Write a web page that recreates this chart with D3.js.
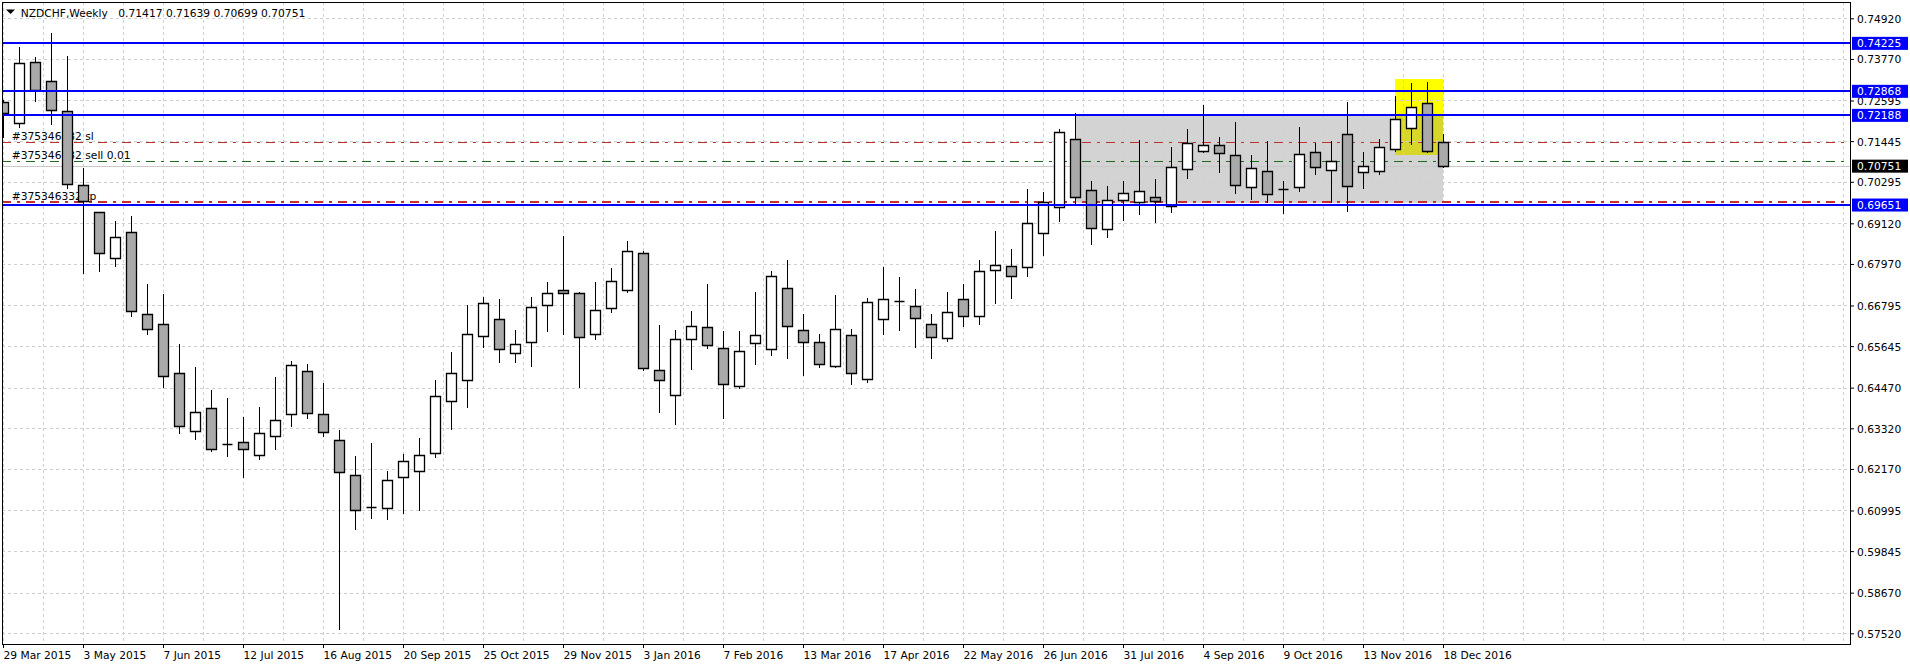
<!DOCTYPE html>
<html><head><meta charset="utf-8">
<script src="https://cdn.jsdelivr.net/npm/d3@7"></script>
<style>
html,body{margin:0;padding:0;background:#fff;overflow:hidden;}
svg text{font-family:"DejaVu Sans",sans-serif;font-size:10.7px;}
</style></head><body>
<svg id="c" width="1910" height="668"></svg>
<script>
// ---------- DATA ----------
const symbolTitle = "NZDCHF,Weekly";
const titleOHLC = "0.71417 0.71639 0.70699 0.70751";
const dateLabels = ["29 Mar 2015","3 May 2015","7 Jun 2015","12 Jul 2015","16 Aug 2015","20 Sep 2015","25 Oct 2015","29 Nov 2015","3 Jan 2016","7 Feb 2016","13 Mar 2016","17 Apr 2016","22 May 2016","26 Jun 2016","31 Jul 2016","4 Sep 2016","9 Oct 2016","13 Nov 2016","18 Dec 2016"];
const dateLabelBars = [0,5,10,15,20,25,30,35,40,45,50,55,60,65,70,75,80,85,90];
const priceTicks = [0.74920,0.73770,0.72595,0.71445,0.70295,0.69120,0.67970,0.66795,0.65645,0.64470,0.63320,0.62170,0.60995,0.59845,0.58670,0.57520];

const opens  = [0.72561,0.71950,0.73675,0.73138,0.72289,0.70195,0.69431,0.68130,0.68866,0.66546,
                0.66263,0.64876,0.63235,0.63886,0.62880,0.62924,0.62556,0.63094,0.63716,0.64933,
                0.63716,0.62981,0.61990,0.61085,0.61057,0.61934,0.62112,0.62613,0.64084,0.64678,
                0.65923,0.66404,0.65442,0.65753,0.66800,0.67225,0.67140,0.65980,0.66715,0.67225,
                0.68271,0.64961,0.64254,0.65838,0.66178,0.65584,0.64508,0.65725,0.65555,0.67281,
                0.66093,0.65753,0.65074,0.65951,0.64707,0.66404,0.66935,0.66772,0.66263,0.65867,
                0.66970,0.66489,0.67790,0.67904,0.67875,0.68837,0.69573,0.71497,0.70054,0.68950,
                0.69771,0.69714,0.69856,0.69601,0.70648,0.71157,0.71327,0.71044,0.70139,0.70591,
                0.70085,0.70139,0.71129,0.70620,0.71638,0.70563,0.70591,0.71214,0.71817,0.72515,
                0.71417];
const highs  = [0.72600,0.74100,0.73817,0.74496,0.73854,0.70676,0.69431,0.69185,0.69318,0.67403,
                0.67120,0.65697,0.65055,0.64404,0.64177,0.63648,0.63931,0.64780,0.65224,0.65139,
                0.64610,0.63272,0.62536,0.62913,0.62121,0.62593,0.63046,0.64687,0.65479,0.66809,
                0.67035,0.66970,0.66101,0.67027,0.67459,0.68761,0.67176,0.67459,0.67856,0.68619,
                0.68345,0.66243,0.66101,0.66639,0.67403,0.66073,0.66073,0.67176,0.67762,0.68073,
                0.66554,0.65988,0.67092,0.66121,0.66998,0.67884,0.67601,0.67261,0.66554,0.67176,
                0.67403,0.68073,0.68902,0.68393,0.70091,0.69997,0.71788,0.72241,0.70317,0.70176,
                0.70317,0.71477,0.70374,0.71279,0.71788,0.72467,0.71562,0.71986,0.71053,0.71449,
                0.70317,0.71845,0.71392,0.71449,0.72552,0.71138,0.71505,0.72722,0.73098,0.73127,
                0.71639];
const lows   = [0.71570,0.71836,0.72589,0.71930,0.70119,0.67723,0.67779,0.67921,0.66506,0.65988,
                0.64497,0.63196,0.63017,0.62686,0.62536,0.61951,0.62443,0.62734,0.63394,0.63603,
                0.63111,0.57650,0.60480,0.60791,0.60745,0.60915,0.61009,0.62517,0.63309,0.63931,
                0.65629,0.65204,0.65204,0.65091,0.66082,0.65997,0.64480,0.65838,0.66619,0.67168,
                0.64970,0.63790,0.63433,0.65006,0.65584,0.63603,0.64452,0.65148,0.65402,0.65301,
                0.64828,0.65046,0.65060,0.64582,0.64639,0.65988,0.66101,0.65612,0.65301,0.65782,
                0.66223,0.66280,0.66874,0.67015,0.67638,0.68223,0.69194,0.69703,0.68543,0.68741,
                0.69214,0.69392,0.69165,0.69448,0.70410,0.71150,0.70580,0.69986,0.69816,0.69714,
                0.69403,0.70043,0.70507,0.69714,0.69477,0.70127,0.70507,0.71174,0.71355,0.71146,
                0.70699];
const closes = [0.72232,0.73647,0.72892,0.72326,0.70232,0.69743,0.68271,0.68724,0.66639,0.66121,
                0.64791,0.63377,0.63773,0.62726,0.62876,0.62726,0.63179,0.63546,0.65103,0.63745,
                0.63207,0.62075,0.61000,0.61090,0.61857,0.62386,0.62556,0.64226,0.64876,0.65980,
                0.66857,0.65555,0.65697,0.66744,0.67140,0.67140,0.65895,0.66659,0.67479,0.68328,
                0.65018,0.64678,0.65838,0.66206,0.65668,0.64565,0.65499,0.65951,0.67621,0.66206,
                0.65753,0.65131,0.66121,0.64876,0.66885,0.66970,0.66925,0.66432,0.65895,0.66602,
                0.66489,0.67762,0.67932,0.67621,0.69120,0.69714,0.71695,0.69856,0.68996,0.69771,
                0.69969,0.70026,0.69743,0.70705,0.71384,0.71327,0.71101,0.70195,0.70676,0.69941,
                0.70080,0.71072,0.70705,0.70874,0.70167,0.70733,0.71270,0.72063,0.72419,0.71174,
                0.70751];

const levelPrices = [0.74225,0.72868,0.72188,0.69651];
const bidPrice = 0.70751;
const orderId = "#375346332";
const orderNames  = ["sl","sell 0.01","tp"];
const orderPrices = [0.71420,0.70874,0.69710];
const orderColors = ["#c0302c","#1a6b1a","#c0302c"];
const orderWidths = [1,1,2];
// zones: [fromBar, toBar, topPrice, bottomPrice]
const grayZone   = [67,90,0.72188,0.69700];
const yellowZone = [87,90,0.73203,0.71053];

// ---------- LAYOUT ----------
const svg = d3.select("#c");
const L = 2, T = 2, R = 1850, B = 644;
const x = d3.scaleLinear().domain([0,90]).range([3,1443]);
const y = d3.scaleLinear().domain([0.57520,0.74920]).range([633.3,18.3]);
const px = v => Math.round(v) + 0.5;

svg.append("rect").attr("width",1910).attr("height",668).attr("fill","#fff");
svg.append("defs").append("clipPath").attr("id","clip")
  .append("rect").attr("x",L+1).attr("y",T+1).attr("width",R-L-1).attr("height",B-T-1);
const plot = svg.append("g").attr("clip-path","url(#clip)");

// zones
function zoneRect(z, fill){
  plot.append("rect")
    .attr("x", x(z[0])).attr("width", x(z[1]) - x(z[0]))
    .attr("y", y(z[2])).attr("height", y(z[3]) - y(z[2]))
    .attr("fill", fill);
}
zoneRect(grayZone, "#d3d3d3");
zoneRect(yellowZone, "#ffff00");
const ov = [Math.max(grayZone[0],yellowZone[0]), Math.min(grayZone[1],yellowZone[1]),
            Math.min(grayZone[2],yellowZone[2]), Math.max(grayZone[3],yellowZone[3])];
if (ov[2] > ov[3]) zoneRect(ov, "#d6d62b");

// grid
const gridBars = d3.range(0, 116, 2.5);
plot.selectAll("line.vg").data(gridBars).join("line")
  .attr("x1", d=>px(x(d))).attr("x2", d=>px(x(d)))
  .attr("y1", T).attr("y2", B)
  .attr("stroke","#cfcfcf").attr("stroke-dasharray","3,3");
plot.selectAll("line.hg").data(priceTicks).join("line")
  .attr("x1", L).attr("x2", R)
  .attr("y1", d=>px(y(d))).attr("y2", d=>px(y(d)))
  .attr("stroke","#cfcfcf").attr("stroke-dasharray","3,3");

// bid line
plot.append("line").attr("x1",L).attr("x2",R)
  .attr("y1",px(y(bidPrice))).attr("y2",px(y(bidPrice)))
  .attr("stroke","#c8c8c8");

// order lines + labels
orderPrices.forEach((p,k)=>{
  const yy = orderWidths[k] === 2 ? Math.round(y(p)) : px(y(p));
  plot.append("line").attr("x1",L).attr("x2",R).attr("y1",yy).attr("y2",yy)
    .attr("stroke",orderColors[k]).attr("stroke-width",orderWidths[k])
    .attr("stroke-dasharray","9,6,3,6");
  plot.append("text").attr("x",11.7).attr("y",y(p)-2.3).attr("fill","#000")
    .text(orderId + " " + orderNames[k]);
});

// candles
const bars = opens.map((o,i)=>({i,o,h:highs[i],l:lows[i],c:closes[i]}));
plot.selectAll("line.wick").data(bars).join("line")
  .attr("x1",d=>px(x(d.i))).attr("x2",d=>px(x(d.i)))
  .attr("y1",d=>Math.round(y(d.h))).attr("y2",d=>Math.round(y(d.l))+1)
  .attr("stroke","#000").attr("stroke-width",1);
plot.selectAll("path.body").data(bars).join("path")
  .attr("d", d=>{
    const cx = Math.round(x(d.i));
    const y0 = px(y(Math.max(d.o,d.c))), y1 = px(y(Math.min(d.o,d.c)));
    const x0 = cx - 4.5, x1 = cx + 5.5;
    return `M${x0},${y0}H${x1}V${y1}H${x0}Z`;
  })
  .attr("fill", d=> d.c >= d.o ? "#ffffff" : "#a9a9a9")
  .attr("stroke","#000").attr("stroke-width",1.3);

// support / resistance lines
plot.selectAll("line.lvl").data(levelPrices).join("line")
  .attr("x1",L).attr("x2",R)
  .attr("y1",d=>Math.round(y(d))).attr("y2",d=>Math.round(y(d)))
  .attr("stroke","#0000ff").attr("stroke-width",2);

// frame
svg.append("rect").attr("x",L+0.5).attr("y",T+0.5).attr("width",R-L).attr("height",B-T)
  .attr("fill","none").attr("stroke","#000");

// price axis
const yAxis = d3.axisRight(y).tickValues(priceTicks).tickFormat(d3.format(".5f"))
  .tickSize(4).tickPadding(3);
const ya = svg.append("g").attr("transform",`translate(${R},0)`).call(yAxis);
ya.select(".domain").remove();
ya.attr("font-family",null).attr("font-size",null);
ya.selectAll("text").attr("dy",null).attr("y",4).attr("fill","#000");

// date axis
const xAxis = d3.axisBottom(x).tickValues(dateLabelBars)
  .tickFormat((d,k)=>dateLabels[k]).tickSize(4);
const xa = svg.append("g").attr("transform",`translate(0,${B})`).call(xAxis);
xa.select(".domain").remove();
xa.attr("font-family",null).attr("font-size",null);
xa.selectAll("text").attr("text-anchor","start").attr("dy",null).attr("y",15.3).attr("x",0).attr("fill","#000");

// price boxes
function priceBox(p, bg){
  const yy = y(p);
  const g = svg.append("g");
  g.append("rect").attr("x",R+2).attr("y",yy-6).attr("width",56).attr("height",13).attr("fill",bg);
  g.append("text").attr("x",R+7).attr("y",yy+4.3).attr("fill","#fff").text(d3.format(".5f")(p));
}
priceBox(bidPrice, "#000");
levelPrices.forEach(p=>priceBox(p,"#0000ff"));

// title
svg.append("path").attr("d","M6,9.5H15L10.5,14Z").attr("fill","#000");
svg.append("text").attr("x",20.7).attr("y",17.3).attr("fill","#000").text(symbolTitle);
svg.append("text").attr("x",118.3).attr("y",17.3).attr("fill","#000").text(titleOHLC);
</script>
</body></html>
